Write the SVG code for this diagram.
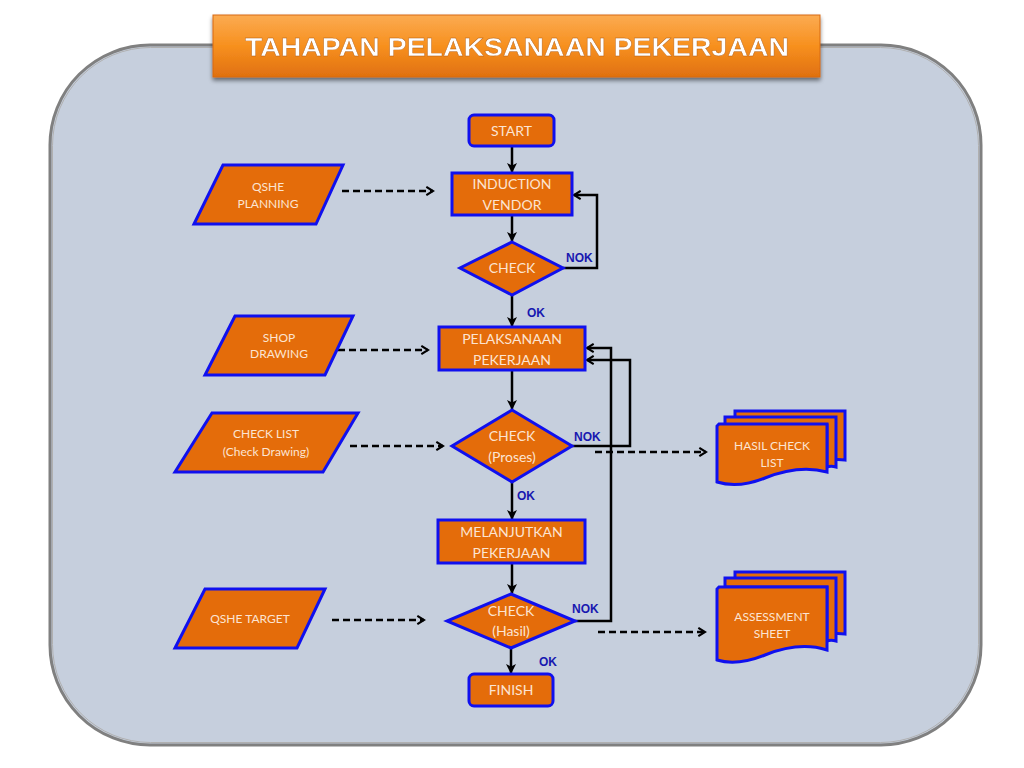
<svg xmlns="http://www.w3.org/2000/svg" width="1024" height="768" viewBox="0 0 1024 768">
<defs>
<linearGradient id="tg" x1="0" y1="0" x2="0" y2="1">
<stop offset="0" stop-color="#fbab52"/>
<stop offset="0.5" stop-color="#f7901e"/>
<stop offset="1" stop-color="#e07010"/>
</linearGradient>
<filter id="sh" x="-5%" y="-20%" width="110%" height="150%">
<feGaussianBlur in="SourceAlpha" stdDeviation="2"/>
<feOffset dx="0" dy="3" result="b"/>
<feComponentTransfer><feFuncA type="linear" slope="0.5"/></feComponentTransfer>
<feMerge><feMergeNode/><feMergeNode in="SourceGraphic"/></feMerge>
</filter>
<marker id="ah" viewBox="0 0 10 10" refX="9" refY="5" markerWidth="4" markerHeight="4" orient="auto" markerUnits="strokeWidth">
<path d="M0,0 L10,5 L0,10 L2.5,5 Z" fill="#000"/>
</marker>
<marker id="ao" viewBox="0 0 12 12" refX="10" refY="6" markerWidth="4" markerHeight="4" orient="auto" markerUnits="strokeWidth">
<path d="M2,1 L10,6 L2,11" fill="none" stroke="#000" stroke-width="2.5"/>
</marker>
</defs>
<style>
.n{fill:#e46c0a;stroke:#1010ee;stroke-width:3;stroke-linejoin:miter}
.t{font-family:Lato,"Open Sans","Liberation Sans",sans-serif;font-size:14px;fill:#fce4d2;text-anchor:middle}
.ts{font-family:Lato,"Open Sans","Liberation Sans",sans-serif;font-size:12px;fill:#fce4d2;text-anchor:middle}
.lb{font-family:"Liberation Sans",Arial,sans-serif;font-size:12px;font-weight:bold;fill:#1818b0}
.c{fill:none;stroke:#000;stroke-width:2.5}
.d{fill:none;stroke:#000;stroke-width:2.5;stroke-dasharray:7,4}
</style>
<rect x="0" y="0" width="1024" height="768" fill="#ffffff"/>
<g id="background">
<rect x="50" y="45" width="931" height="700" rx="100" ry="100" fill="#c6cfdd" stroke="#808080" stroke-width="3"/>
<rect x="52.5" y="47.5" width="926" height="695" rx="98" ry="98" fill="none" stroke="#b0b0b0" stroke-width="1"/>
</g>
<g id="title" filter="url(#sh)">
<rect x="213" y="15" width="607" height="62" fill="url(#tg)" stroke="#d86a10" stroke-width="1"/>
<text x="517" y="56" font-family="'Liberation Sans',Arial,sans-serif" font-size="26" font-weight="bold" fill="#ffffff" text-anchor="middle" textLength="544" lengthAdjust="spacingAndGlyphs" stroke="#b05a10" stroke-width="0.4">TAHAPAN PELAKSANAAN PEKERJAAN</text>
</g>
<g id="connectors">
<line class="c" x1="512" y1="146" x2="512" y2="172" marker-end="url(#ah)"/>
<line class="c" x1="512" y1="215" x2="512" y2="241" marker-end="url(#ah)"/>
<polyline class="c" points="563,268 597,268 597,195 574,195" marker-end="url(#ao)"/>
<line class="c" x1="512" y1="295" x2="512" y2="326" marker-end="url(#ah)"/>
<line class="c" x1="512" y1="370" x2="512" y2="409" marker-end="url(#ah)"/>
<polyline class="c" points="572,446 630,446 630,360 587,360" marker-end="url(#ao)"/>
<line class="c" x1="512" y1="482" x2="512" y2="519" marker-end="url(#ah)"/>
<line class="c" x1="512" y1="563" x2="512" y2="593" marker-end="url(#ah)"/>
<polyline class="c" points="575,621 611,621 611,348 587,348" marker-end="url(#ao)"/>
<line class="c" x1="511" y1="648" x2="511" y2="673" marker-end="url(#ah)"/>
<line class="d" x1="342" y1="191" x2="433" y2="191" marker-end="url(#ao)"/>
<line class="d" x1="338" y1="350" x2="428" y2="350" marker-end="url(#ao)"/>
<line class="d" x1="350" y1="446" x2="443" y2="446" marker-end="url(#ao)"/>
<line class="d" x1="332" y1="620" x2="424" y2="620" marker-end="url(#ao)"/>
<line class="d" x1="595" y1="452" x2="706" y2="452" marker-end="url(#ao)"/>
<line class="d" x1="598" y1="632" x2="705" y2="632" marker-end="url(#ao)"/>
<text class="lb" x="566" y="262">NOK</text>
<text class="lb" x="527" y="317">OK</text>
<text class="lb" x="574" y="441">NOK</text>
<text class="lb" x="517" y="500">OK</text>
<text class="lb" x="572" y="613">NOK</text>
<text class="lb" x="539" y="666">OK</text>
</g>
<g id="start">
<rect class="n" x="469" y="115" width="85" height="31" rx="5"/>
<text class="t" x="511.5" y="136">START</text>
</g>
<g id="induction">
<rect class="n" x="452" y="173" width="120" height="42"/>
<text class="t" x="512" y="189">INDUCTION</text>
<text class="t" x="512" y="210">VENDOR</text>
</g>
<g id="check1">
<polygon class="n" points="512,242 563,268 512,295 460,268"/>
<text class="t" x="512" y="273">CHECK</text>
</g>
<g id="pelaksanaan">
<rect class="n" x="439" y="327" width="146" height="43"/>
<text class="t" x="512" y="344">PELAKSANAAN</text>
<text class="t" x="512" y="365">PEKERJAAN</text>
</g>
<g id="check2">
<polygon class="n" points="512,410 572,446 512,482 452,446"/>
<text class="t" x="512" y="441">CHECK</text>
<text class="t" x="512" y="462">(Proses)</text>
</g>
<g id="melanjutkan">
<rect class="n" x="438" y="520" width="147" height="43"/>
<text class="t" x="511.5" y="537">MELANJUTKAN</text>
<text class="t" x="511.5" y="558">PEKERJAAN</text>
</g>
<g id="check3">
<polygon class="n" points="511,594 575,621 511,648 447,621"/>
<text class="t" x="511" y="616">CHECK</text>
<text class="t" x="511" y="636">(Hasil)</text>
</g>
<g id="finish">
<rect class="n" x="469" y="674" width="84" height="32" rx="5"/>
<text class="t" x="511" y="695">FINISH</text>
</g>
<g id="qshe-planning">
<polygon class="n" points="223,165 343,165 316,224 194,224"/>
<text class="ts" x="268" y="191">QSHE</text>
<text class="ts" x="268" y="208">PLANNING</text>
</g>
<g id="shop-drawing">
<polygon class="n" points="235,316 353,316 325,375 205,375"/>
<text class="ts" x="279" y="342">SHOP</text>
<text class="ts" x="279" y="358">DRAWING</text>
</g>
<g id="check-list">
<polygon class="n" points="212,413 358,413 323,472 175,472"/>
<text class="ts" x="266" y="438">CHECK LIST</text>
<text class="ts" x="266" y="456">(Check Drawing)</text>
</g>
<g id="qshe-target">
<polygon class="n" points="205,589 325,589 297,648 175,648"/>
<text class="ts" x="250" y="623">QSHE TARGET</text>
</g>
<g id="hasil-check-list">
<path class="n" d="M735,411 H845 V460 C835,459 830,460 827,461 L827,420 H735 Z"/>
<path class="n" d="M725,417 H836 V467 C832,466 830,466 827,467 L827,425 H725 Z"/>
<path class="n" d="M719,424 H827 V472 C805,466 785,470 765,478 C750,484 733,487 717,482 V426 Z"/>
<text class="ts" x="772" y="450">HASIL CHECK</text>
<text class="ts" x="772" y="467">LIST</text>
</g>
<g id="assessment-sheet">
<path class="n" d="M735,572 H845 V634 C835,633 830,634 827,635 L827,580 H735 Z"/>
<path class="n" d="M725,578 H836 V641 C832,640 830,640 827,641 L827,587 H725 Z"/>
<path class="n" d="M719,587 H827 V650 C805,643 785,647 765,655 C750,661 733,665 717,660 V589 Z"/>
<text class="ts" x="772" y="621">ASSESSMENT</text>
<text class="ts" x="772" y="638">SHEET</text>
</g>
</svg>
